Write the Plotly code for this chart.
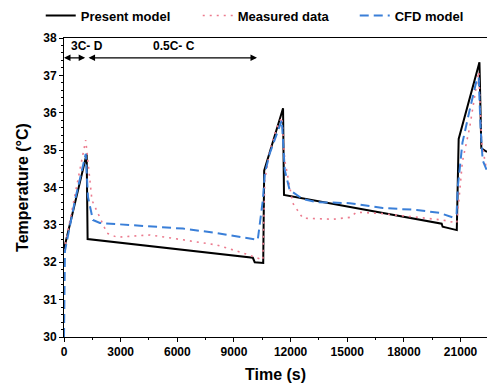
import plotly.graph_objects as go

# Present model (black solid)
t_present = [0, 1200, 1250, 10000, 10100, 10550, 10600, 11600, 11650, 20000, 20050, 20800, 20900, 22000, 22100, 22400]
T_present = [32.35, 34.9, 32.62, 32.12, 32.0, 31.98, 34.45, 36.12, 33.8, 33.03, 32.95, 32.86, 35.3, 37.35, 35.05, 34.95]

# Measured data (pink dotted)
t_meas = [0, 600, 1150, 1480, 2275, 2800, 4550, 6300, 8100, 9470, 10210, 10530, 10635, 10900, 11270, 11535,
          11690, 12116, 12646, 14230, 15130, 15500, 16880, 18680, 20050, 20800, 20950, 21100, 21480, 21850,
          21960, 22116, 22380]
T_meas = [32.3, 33.9, 35.27, 33.66, 32.78, 32.67, 32.73, 32.6, 32.46, 32.25, 32.11, 32.06, 34.2, 35.0, 35.6, 35.88,
          34.73, 33.58, 33.18, 33.15, 33.2, 33.34, 33.3, 33.2, 33.13, 33.05, 34.0, 34.7, 35.6, 36.7,
          37.1, 35.2, 34.47]

# CFD model (blue dashed)
t_cfd = [0, 50, 600, 1150, 1270, 1530, 1900, 2800, 4550, 6300, 8100, 9470, 10260, 10530, 10635, 10900, 11270,
         11535, 11690, 11950, 12646, 13380, 15130, 16880, 18680, 19890, 20580, 20790, 20850, 21100, 21480,
         21850, 21960, 22060, 22170, 22380]
T_cfd = [30.0, 32.3, 33.7, 34.9, 33.75, 33.13, 33.05, 33.02, 32.97, 32.9, 32.78, 32.67, 32.6, 33.66, 34.38, 34.92,
         35.45, 35.8, 34.47, 33.93, 33.69, 33.61, 33.58, 33.45, 33.4, 33.32, 33.2, 33.3, 34.0, 35.2, 36.07,
         36.87, 36.95, 35.6, 34.73, 34.47]

x_ticks = [0, 3000, 6000, 9000, 12000, 15000, 18000, 21000]
y_ticks = [30, 31, 32, 33, 34, 35, 36, 37, 38]

FONT = "Liberation Sans, Arial, sans-serif"

fig = go.Figure()
fig.add_trace(go.Scatter(x=t_present, y=T_present, mode="lines", name="<b>Present model</b>",
                         line=dict(color="black", width=2)))
fig.add_trace(go.Scatter(x=t_meas, y=T_meas, mode="lines", name="<b>Measured data</b>",
                         line=dict(color="#ec7b8e", width=1.6, dash="2px,5px")))
fig.add_trace(go.Scatter(x=t_cfd, y=T_cfd, mode="lines", name="<b>CFD model</b>",
                         line=dict(color="#3a7fd8", width=2, dash="9px,5px")))

# phase annotations
fig.add_annotation(x=0, y=37.47, ax=1200, ay=37.47, xref="x", yref="y", axref="x", ayref="y",
                   text="", showarrow=True, arrowhead=2, arrowside="end+start", arrowsize=1,
                   arrowwidth=1.3, arrowcolor="black")
fig.add_annotation(x=1300, y=37.47, ax=10300, ay=37.47, xref="x", yref="y", axref="x", ayref="y",
                   text="", showarrow=True, arrowhead=2, arrowside="end+start", arrowsize=1,
                   arrowwidth=1.3, arrowcolor="black")
fig.add_annotation(x=250, y=37.78, xref="x", yref="y", text="<b>3C- D</b>", showarrow=False,
                   xanchor="left", font=dict(family=FONT, size=12, color="black"))
fig.add_annotation(x=4600, y=37.78, xref="x", yref="y", text="<b>0.5C- C</b>", showarrow=False,
                   xanchor="left", font=dict(family=FONT, size=12, color="black"))

fig.update_layout(
    width=487, height=383,
    margin=dict(l=64, r=0, t=38, b=46, autoexpand=False),
    paper_bgcolor="white", plot_bgcolor="white",
    font=dict(family=FONT, color="black"),
    showlegend=True,
    legend=dict(orientation="h", x=-0.055, y=1.075, xanchor="left", yanchor="middle",
                font=dict(family=FONT, size=13, color="black"),
                entrywidth=112, entrywidthmode="pixels",
                bgcolor="rgba(0,0,0,0)", itemwidth=30),
    xaxis=dict(range=[0, 22400], tickvals=x_ticks, ticktext=[f"<b>{v}</b>" for v in x_ticks],
               showgrid=False, zeroline=False, showline=True, linecolor="black", linewidth=1,
               mirror=True, ticks="outside", ticklen=4, tickcolor="black", automargin=False,
               minor=dict(dtick=1500, tick0=0, ticks="outside", ticklen=2, tickcolor="black"),
               tickfont=dict(family=FONT, size=12, color="black"),
               title=dict(text="<b>Time (s)</b>", font=dict(family=FONT, size=16, color="black"), standoff=12)),
    yaxis=dict(range=[30, 38], tickvals=y_ticks, ticktext=[f"<b>{v}</b>" for v in y_ticks],
               showgrid=False, zeroline=False, showline=True, linecolor="black", linewidth=1,
               mirror=True, ticks="outside", ticklen=4, tickcolor="black", automargin=False,
               minor=dict(dtick=0.2, ticks="outside", ticklen=2, tickcolor="black"),
               tickfont=dict(family=FONT, size=12, color="black"),
               title=dict(text="<b>Temperature (°C)</b>", font=dict(family=FONT, size=16, color="black"), standoff=10)),
)

fig.write_html("out.html", config={"displayModeBar": False},
               post_script="document.body.style.margin='0';")
